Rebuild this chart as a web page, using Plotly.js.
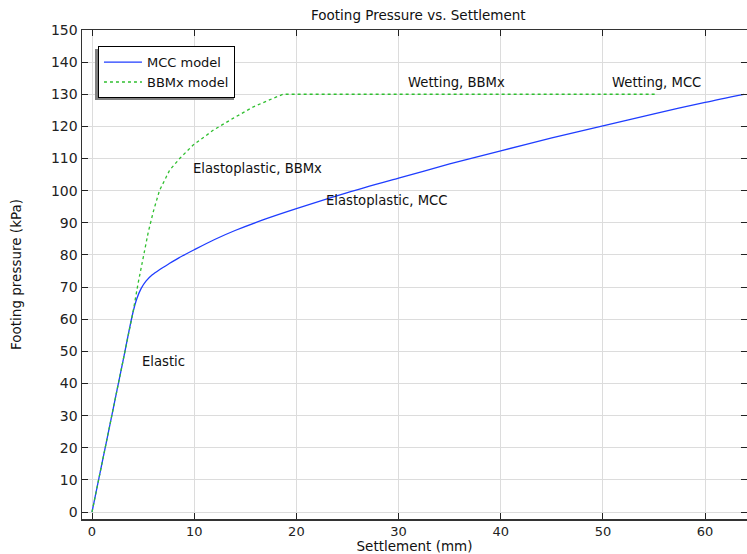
<!DOCTYPE html>
<html>
<head>
<meta charset="utf-8">
<script src="https://cdn.plot.ly/plotly-3.0.1.min.js"></script>
<style>html,body{margin:0;padding:0;background:#fff;}#chart{width:747px;height:554px;}</style>
</head>
<body>
<div id="chart"></div>
<script>
// MCC model: settlement (mm) vs footing pressure (kPa)
const mccSettlement = [0, 1, 2, 3, 4, 4.4, 4.8, 5.3, 5.9, 6.6, 7.5, 8.5, 10, 12, 14, 17, 20, 25, 30, 35, 40, 45, 50, 55, 60, 63.8];
const mccPressure   = [0, 15.5, 31, 46.5, 62, 66.5, 69.5, 71.9, 73.8, 75.4, 77.2, 79.1, 81.6, 84.8, 87.6, 91.2, 94.4, 99.4, 103.9, 108.3, 112.4, 116.4, 120.2, 123.9, 127.5, 130];
// BBMx model
const bbmSettlement = [0, 1, 2, 3, 4, 4.5, 5, 5.5, 6, 6.6, 7.6, 8.6, 9.9, 11.9, 13.8, 15.8, 17.7, 18.7, 55.2];
const bbmPressure   = [0, 15.5, 31, 46.5, 62, 71, 79.5, 87, 93.5, 100, 106.4, 110.1, 114.2, 118.9, 122.5, 126.1, 128.7, 130, 130];

const labelText = ["Elastic", "Elastoplastic, BBMx", "Elastoplastic, MCC", "Wetting, BBMx", "Wetting, MCC"];
const labelX = [4.7, 9.7, 22.7, 30.7, 50.7];
const labelY = [46.7, 106.8, 96.8, 133.8, 133.8];

const font = "DejaVu Sans, sans-serif";

const traces = [
  {x: mccSettlement, y: mccPressure, type: 'scatter', mode: 'lines', name: 'MCC model',
   line: {color: '#1f3dff', width: 1.3, shape: 'spline', smoothing: 0.8}},
  {x: bbmSettlement, y: bbmPressure, type: 'scatter', mode: 'lines', name: 'BBMx model',
   line: {color: '#2fbf2f', width: 1.3, dash: 'dot'}}
];

const annotations = labelText.map((t, i) => ({
  x: labelX[i], y: labelY[i], xref: 'x', yref: 'y', text: t, showarrow: false,
  xanchor: 'left', yanchor: 'middle', font: {family: font, size: 13.2, color: '#111'}
}));

const layout = {
  width: 747, height: 554,
  margin: {l: 82, r: 0, t: 30, b: 35, pad: 0},
  paper_bgcolor: '#fff', plot_bgcolor: '#fff',
  font: {family: font, size: 13.5, color: '#222'},
  title: {text: 'Footing Pressure vs. Settlement', x: 0.56, xanchor: 'center', y: 0.973, yanchor: 'middle',
          font: {family: font, size: 13.5, color: '#111'}},
  xaxis: {
    range: [-0.98, 64.1], tickvals: [0, 10, 20, 30, 40, 50, 60],
    showgrid: true, gridcolor: '#dcdcdc', gridwidth: 1, zeroline: false,
    showline: true, linecolor: '#333', linewidth: 1.5, mirror: 'ticks',
    ticks: 'inside', ticklen: 6, tickcolor: '#222',
    tickfont: {family: font, size: 13, color: '#222'},
    title: {text: 'Settlement (mm)', standoff: 5, font: {family: font, size: 13.5, color: '#111'}}
  },
  yaxis: {
    range: [-2.18, 150], tickvals: [0, 10, 20, 30, 40, 50, 60, 70, 80, 90, 100, 110, 120, 130, 140, 150],
    showgrid: true, gridcolor: '#dcdcdc', gridwidth: 1, zeroline: false,
    showline: true, linecolor: '#333', linewidth: 1.5, mirror: 'ticks',
    ticks: 'inside', ticklen: 6, tickcolor: '#222',
    tickfont: {family: font, size: 14, color: '#222'},
    title: {text: 'Footing pressure (kPa)', standoff: 26, font: {family: font, size: 13.5, color: '#111'}}
  },
  showlegend: true,
  legend: {x: 0.024, y: 0.967, xanchor: 'left', yanchor: 'top', bgcolor: '#fff',
           bordercolor: '#000', borderwidth: 1, font: {family: font, size: 13, color: '#111'},
           tracegroupgap: 0, itemwidth: 38},
  shapes: [
    {type: 'rect', xref: 'paper', yref: 'paper', layer: 'above',
     x0: 13/665, x1: 152/665, y0: 1 - 70/489, y1: 1 - 19/489,
     fillcolor: '#808080', line: {width: 0}}
  ],
  annotations: annotations
};

Plotly.newPlot('chart', traces, layout, {displayModeBar: false, staticPlot: true});
</script>
</body>
</html>
